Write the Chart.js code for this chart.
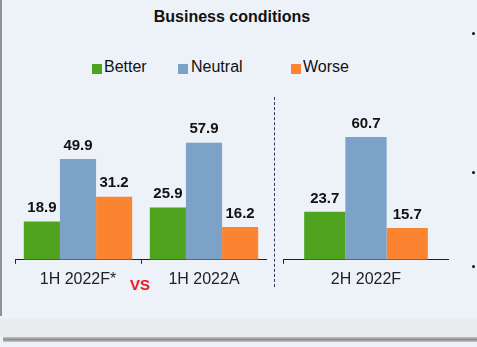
<!DOCTYPE html>
<html>
<head>
<meta charset="utf-8">
<script src="https://cdn.jsdelivr.net/npm/chart.js@4"></script>
<style>
  body { margin: 0; width: 477px; height: 347px; background: #edf1f8; position: relative; overflow: hidden;
         font-family: Arial, "Liberation Sans", sans-serif; }
  .abs { position: absolute; }
  #leftEdge { left: 0; top: 0; width: 2px; height: 316px; background: #8d929b; }
  #bottomBand { left: 0; top: 319px; width: 477px; height: 18px; background: #eaecf0; }
  #bottomLine { left: 3px; top: 337px; width: 474px; height: 5px; background: linear-gradient(#c4c4c4, #8e8e8e, #c8c8c8); }
  #title { left: 0; width: 464px; top: 8px; text-align: center; font-weight: bold; font-size: 16px; color: #111; }
  .key { top: 64px; width: 10px; height: 10px; }
  .keyText { top: 58px; font-size: 16px; color: #111; }
  #divider { left: 274px; top: 97px; height: 190px; border-left: 1px dashed #2a3a66; }
  #vs { left: 130px; top: 276px; color: #e8191e; font-weight: bold; font-size: 15px; }
  .dot { left: 472px; width: 3px; height: 3px; border-radius: 2px; background: #111; }
</style>
</head>
<body>
<div class="abs" id="leftEdge"></div>
<div class="abs" id="bottomBand"></div>
<div class="abs" id="bottomLine"></div>
<div class="abs" id="title">Business conditions</div>

<div class="abs key" style="left:92px;background:#4fa31e"></div>
<div class="abs keyText" style="left:104px">Better</div>
<div class="abs key" style="left:178px;background:#7da2c8"></div>
<div class="abs keyText" style="left:191px">Neutral</div>
<div class="abs key" style="left:291px;background:#fb8431"></div>
<div class="abs keyText" style="left:303px">Worse</div>

<div class="abs" id="divider"></div>
<div class="abs" id="vs">VS</div>
<div class="abs dot" style="top:32px"></div>
<div class="abs dot" style="top:171px"></div>
<div class="abs dot" style="top:265px"></div>

<div class="abs" style="left:15px;top:98px;width:252px;height:197px"><canvas id="left"></canvas></div>
<div class="abs" style="left:283px;top:98px;width:166px;height:197px"><canvas id="right"></canvas></div>

<script>
// periods, split in two panels like the slide
const leftPeriods = ["1H 2022F*", "1H 2022A"];
const rightPeriods = ["2H 2022F"];

const better = [18.9, 25.9, 23.7];
const neutral = [49.9, 57.9, 60.7];
const worse = [31.2, 16.2, 15.7];

const colors = { better: "#4fa31e", neutral: "#7da2c8", worse: "#fb8431" };

// values above the bars
const valueLabels = {
  id: "valueLabels",
  afterDatasetsDraw(chart) {
    const ctx = chart.ctx;
    ctx.save();
    ctx.font = "bold 15px Arial, 'Liberation Sans', sans-serif";
    ctx.fillStyle = "#111";
    ctx.textAlign = "center";
    ctx.textBaseline = "bottom";
    chart.data.datasets.forEach((ds, i) => {
      chart.getDatasetMeta(i).data.forEach((bar, j) => {
        ctx.fillText(ds.data[j].toFixed(1), bar.x, bar.y - 6);
      });
    });
    ctx.restore();
  }
};

function makeChart(id, labels, from, to, catPct) {
  new Chart(document.getElementById(id), {
    type: "bar",
    data: {
      labels: labels,
      datasets: [
        { label: "Better", data: better.slice(from, to), backgroundColor: colors.better },
        { label: "Neutral", data: neutral.slice(from, to), backgroundColor: colors.neutral },
        { label: "Worse", data: worse.slice(from, to), backgroundColor: colors.worse }
      ]
    },
    options: {
      responsive: true,
      maintainAspectRatio: false,
      animation: false,
      layout: { padding: 0 },
      datasets: { bar: { categoryPercentage: catPct, barPercentage: 1 } },
      plugins: { legend: { display: false }, tooltip: { enabled: false } },
      scales: {
        y: { display: false, min: 0, max: 80 },
        x: {
          grid: { display: true, drawOnChartArea: false, offset: true, tickLength: 4, color: "#222", lineWidth: 1 },
          border: { display: true, color: "#222", width: 1 },
          ticks: { color: "#222", padding: 6, font: { size: 16, family: "Arial, 'Liberation Sans', sans-serif" } }
        }
      }
    },
    plugins: [valueLabels]
  });
}

makeChart("left", leftPeriods, 0, 2, 0.86);
makeChart("right", rightPeriods, 2, 3, 0.745);
</script>
</body>
</html>
